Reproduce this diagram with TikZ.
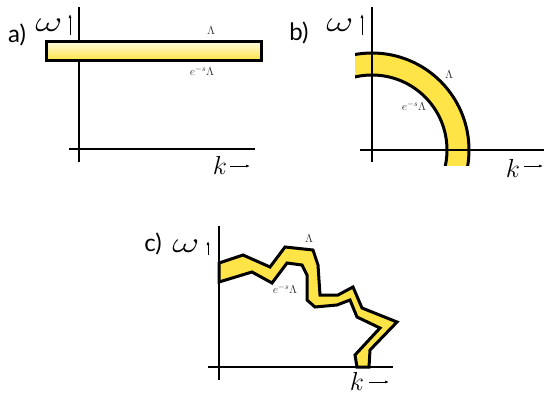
\RequirePackage{fix-cm}
\documentclass[tikz,border=0pt]{standalone}
\usepackage{fontspec}
\usepackage{graphicx}
\usepackage{tikz}
\usetikzlibrary{arrows.meta}
\newfontfamily\rgsans{Lato}
\definecolor{bandyellow}{RGB}{255,228,72}
\tikzset{
  rgpicture/.style={x=1pt, y=-1pt},
  rgaxis/.style={line width=2.4pt},
  rgband/.style={fill=bandyellow, draw=black, line width=3pt, line join=miter},
  rgedge/.style={draw=black, line width=3pt},
  rgpanel/.style={font=\rgsans\fontsize{24}{24}\selectfont, inner sep=0pt},
  rgomega/.style={font=\fontsize{29}{29}\selectfont, inner sep=0pt},
  rgk/.style={font=\fontsize{26}{26}\selectfont, inner sep=0pt},
  rgcut/.style={font=\fontsize{11.5}{11.5}\selectfont, inner sep=0pt, text=black!80},
  rgarrow/.style={-{Latex[length=4pt, width=3pt]}, line width=0.7pt}
}
\newcommand{\rgomegasym}{\scalebox{1.45}[1]{$\omega$}}

\begin{document}
\begin{tikzpicture}[rgpicture]
\useasboundingbox (0,0) rectangle (544,394);

% a) flat cutoff
\draw[rgaxis] (79,7) -- (79,162);
\draw[rgaxis] (69,149) -- (255,149);
\path[draw, line width=3pt, top color=bandyellow!15, bottom color=bandyellow] (46,41) rectangle (261,60);
\node[rgpanel] (la) at (17,35) {a)};
\node[rgomega] (wa) at (49,25) {\rgomegasym};
\coordinate (wa0) at (70,35);
\draw[rgarrow] (wa0) -- ++(0,-21);
\node[rgcut] (cuta) at (211,31) {$\Lambda$};
\node[rgcut] (cutb) at (202,71) {$e^{-s}\Lambda$};
\node[rgk] (ka) at (220,165) {$k$};
\coordinate (ka0) at (230,166);
\draw[rgarrow] (ka0) -- ++(20,0);

% b) spherical shell
\begin{scope}
\clip (355,0) rectangle (544,165);
\fill[bandyellow, even odd rule] (372,150) circle[radius=97] circle[radius=75];
\draw[rgedge] (372,150) circle[radius=97];
\draw[rgedge] (372,150) circle[radius=75];
\end{scope}
\draw[rgaxis] (372,7) -- (372,162);
\draw[rgaxis] (360,150) -- (544,150);
\node[rgpanel] (lb) at (299,33) {b)};
\node[rgomega] (wb) at (340,25) {\rgomegasym};
\coordinate (wb0) at (362,35);
\draw[rgarrow] (wb0) -- ++(0,-21);
\node[rgcut] (cutc) at (449,75) {$\Lambda$};
\node[rgcut] (cutd) at (414,106) {$e^{-s}\Lambda$};
\node[rgk] (kb) at (513,168) {$k$};
\coordinate (kb0) at (524,166);
\draw[rgarrow] (kb0) -- ++(19,0);

% c) irregular shell
\draw[rgaxis] (219,226) -- (219,380);
\draw[rgaxis] (208,367) -- (393,367);
\draw[rgband] (219,263) -- (243,255) -- (270,267) -- (285,247) -- (313,250)
  -- (318,265) -- (320,295) -- (338,295) -- (353,287) -- (362,308)
  -- (397,322) -- (370,350) -- (369,367) -- (357,367) -- (355,355)
  -- (380,328) -- (357,317) -- (350,300) -- (337,305) -- (315,307)
  -- (307,300) -- (307,275) -- (302,265) -- (287,263) -- (272,283)
  -- (252,272) -- (219,282) -- cycle;
\node[rgpanel] (lc) at (153,244) {c)};
\node[rgomega] (wc) at (186,246) {\rgomegasym};
\coordinate (wc0) at (208,255);
\draw[rgarrow] (wc0) -- ++(0,-14);
\node[rgcut] (cute) at (309,239) {$\Lambda$};
\node[rgcut] (cutf) at (285,289) {$e^{-s}\Lambda$};
\node[rgk] (kc) at (357,381) {$k$};
\coordinate (kc0) at (369,382);
\draw[rgarrow] (kc0) -- ++(20,0);
\end{tikzpicture}
\end{document}
